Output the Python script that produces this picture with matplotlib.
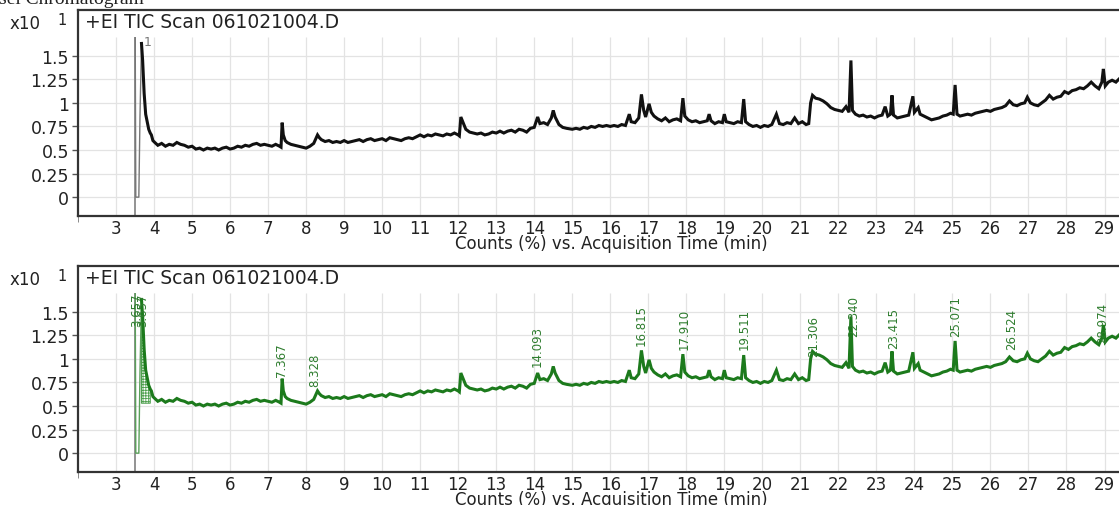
import numpy as np
import matplotlib
matplotlib.use('Agg')
import matplotlib.pyplot as plt

# TIC trace: retention time (min), counts (x10^1 %)
rt = [3.505, 3.52, 3.60, 3.63, 3.67, 3.70, 3.74, 3.78, 3.82, 3.86, 3.90, 3.93, 3.97, 4.02,
      4.10, 4.2, 4.3, 4.4, 4.5, 4.6, 4.7, 4.8, 4.9, 5.0, 5.1, 5.2, 5.3, 5.4, 5.5, 5.6, 5.7,
      5.8, 5.9, 6.0, 6.1, 6.2, 6.3, 6.4, 6.5, 6.6, 6.7, 6.8, 6.9, 7.0, 7.1, 7.2, 7.3, 7.34,
      7.37, 7.40, 7.45, 7.5, 7.6, 7.7, 7.8, 7.9, 8.0, 8.1, 8.2, 8.3, 8.35, 8.4, 8.5, 8.6,
      8.7, 8.8, 8.9, 9.0, 9.1, 9.2, 9.3, 9.4, 9.5, 9.6, 9.7, 9.8, 9.9, 10.0, 10.1, 10.2,
      10.3, 10.4, 10.5, 10.6, 10.7, 10.8, 10.9, 11.0, 11.1, 11.2, 11.3, 11.4, 11.5, 11.6,
      11.7, 11.8, 11.9, 12.0, 12.03, 12.07, 12.12, 12.2, 12.3, 12.4, 12.5, 12.6, 12.7,
      12.8, 12.9, 13.0, 13.1, 13.2, 13.3, 13.4, 13.5, 13.6, 13.7, 13.8, 13.9, 14.0, 14.09,
      14.15, 14.25, 14.35, 14.45, 14.5, 14.55, 14.65, 14.75, 14.85, 15.0, 15.1, 15.2, 15.3,
      15.4, 15.5, 15.6, 15.7, 15.8, 15.9, 16.0, 16.1, 16.2, 16.3, 16.4, 16.5, 16.55, 16.65,
      16.75, 16.82, 16.88, 16.93, 17.02, 17.08, 17.15, 17.25, 17.35, 17.45, 17.55, 17.65,
      17.75, 17.85, 17.91, 17.96, 18.05, 18.15, 18.25, 18.35, 18.45, 18.55, 18.6, 18.65,
      18.75, 18.85, 18.95, 19.0, 19.05, 19.15, 19.25, 19.35, 19.45, 19.51, 19.56, 19.65,
      19.75, 19.85, 19.95, 20.05, 20.15, 20.25, 20.37, 20.45, 20.55, 20.65, 20.75, 20.85,
      20.95, 21.05, 21.15, 21.22, 21.27, 21.32, 21.4, 21.5, 21.6, 21.7, 21.8, 21.9, 22.0,
      22.1, 22.2, 22.28, 22.33, 22.37, 22.45, 22.55, 22.65, 22.75, 22.85, 22.95, 23.05,
      23.15, 23.23, 23.3, 23.37, 23.41, 23.45, 23.55, 23.65, 23.75, 23.85, 23.96, 24.0,
      24.1, 24.15, 24.25, 24.35, 24.45, 24.55, 24.65, 24.75, 24.85, 24.95, 25.02, 25.07,
      25.12, 25.2, 25.3, 25.4, 25.5, 25.6, 25.7, 25.8, 25.9, 26.0, 26.1, 26.2, 26.3, 26.4,
      26.5, 26.6, 26.7, 26.8, 26.9, 26.97, 27.05, 27.15, 27.25, 27.35, 27.45, 27.55, 27.65,
      27.75, 27.85, 27.95, 28.05, 28.15, 28.25, 28.35, 28.45, 28.55, 28.65, 28.75, 28.85,
      28.93, 28.97, 29.02, 29.1, 29.2, 29.3, 29.4, 29.5]
counts = [1.69, 0.0, 0.0, 0.85, 1.63, 1.45, 1.10, 0.88, 0.80, 0.72, 0.68, 0.66, 0.60, 0.58,
          0.55, 0.57, 0.54, 0.56, 0.55, 0.58, 0.56, 0.55, 0.53, 0.54, 0.51, 0.52, 0.50, 0.52,
          0.51, 0.52, 0.50, 0.52, 0.53, 0.51, 0.52, 0.54, 0.53, 0.55, 0.54, 0.56, 0.57, 0.55,
          0.56, 0.55, 0.54, 0.56, 0.54, 0.53, 0.79, 0.66, 0.60, 0.58, 0.56, 0.55, 0.54, 0.53,
          0.52, 0.54, 0.57, 0.66, 0.63, 0.61, 0.59, 0.60, 0.58, 0.59, 0.58, 0.60, 0.58, 0.59,
          0.60, 0.61, 0.59, 0.61, 0.62, 0.60, 0.61, 0.62, 0.60, 0.63, 0.62, 0.61, 0.60, 0.62,
          0.63, 0.62, 0.64, 0.66, 0.64, 0.66, 0.65, 0.67, 0.66, 0.65, 0.67, 0.66, 0.68, 0.66,
          0.65, 0.85, 0.80, 0.72, 0.69, 0.68, 0.67, 0.68, 0.66, 0.67, 0.69, 0.68, 0.70, 0.68,
          0.70, 0.71, 0.69, 0.72, 0.71, 0.69, 0.73, 0.74, 0.85, 0.78, 0.79, 0.77, 0.84, 0.92,
          0.85, 0.77, 0.74, 0.73, 0.72, 0.73, 0.72, 0.74, 0.73, 0.75, 0.74, 0.76, 0.75, 0.76,
          0.75, 0.76, 0.75, 0.77, 0.76, 0.88, 0.80, 0.79, 0.84, 1.09, 0.92, 0.85, 0.99, 0.90,
          0.86, 0.83, 0.81, 0.84, 0.80, 0.82, 0.83, 0.81, 1.05, 0.86, 0.82, 0.80, 0.81, 0.79,
          0.80, 0.81, 0.88, 0.81, 0.78, 0.80, 0.79, 0.88, 0.80, 0.79, 0.78, 0.80, 0.79, 1.04,
          0.80, 0.77, 0.75, 0.76, 0.74, 0.76, 0.75, 0.77, 0.88, 0.78, 0.77, 0.79, 0.78, 0.84,
          0.78, 0.80, 0.77, 0.78, 1.00, 1.08, 1.05, 1.04, 1.02, 0.99, 0.95, 0.93, 0.92, 0.91,
          0.96, 0.90, 1.45, 0.92, 0.88, 0.86, 0.87, 0.85, 0.86, 0.84, 0.86, 0.87, 0.96, 0.86,
          0.88, 1.08, 0.87, 0.84, 0.85, 0.86, 0.87, 1.07, 0.90, 0.95, 0.88, 0.86, 0.84, 0.82,
          0.83, 0.84, 0.86, 0.87, 0.89, 0.88, 1.19, 0.88, 0.86, 0.87, 0.88, 0.87, 0.89, 0.90,
          0.91, 0.92, 0.91, 0.93, 0.94, 0.95, 0.97, 1.02, 0.98, 0.97, 0.99, 1.00, 1.06, 1.00,
          0.98, 0.97, 1.00, 1.03, 1.08, 1.04, 1.06, 1.07, 1.12, 1.10, 1.13, 1.14, 1.16, 1.15,
          1.18, 1.22, 1.18, 1.15, 1.22, 1.36, 1.18, 1.22, 1.24, 1.22, 1.26, 1.27]
n_lead = 5             # points before the first apex, drawn as a thin line

start_time = 3.49      # acquisition start marker
peak_number_rt = 3.72  # "1" tag on the first peak (top panel)
peak_number_y = 1.58

# integrated peak labels (bottom panel): text, retention time, label base height
peak_labels = ['3.657', '3.657', '7.367', '8.328', '14.093', '16.815', '17.910', '19.511',
               '21.306', '22.340', '23.415', '25.071', '26.524', '28.974']
label_rt = [3.54, 3.71, 7.36, 8.24, 14.09, 16.81, 17.95, 19.53, 21.34, 22.39, 23.45,
            25.09, 26.57, 28.94]
label_base = [1.35, 1.35, 0.815, 0.71, 0.92, 1.15, 1.10, 1.10, 1.03, 1.24, 1.12, 1.24,
              1.10, 1.17]

# hatched integration area of the first peak
area_from, area_to, area_base = 3.67, 3.91, 0.53

x_ticks = list(range(3, 30))
y_ticks = [0, 0.25, 0.5, 0.75, 1, 1.25, 1.5]
y_ticklabels = ['0', '0.25', '0.5', '0.75', '1', '1.25', '1.5']
title = '+EI TIC Scan 061021004.D'
xlabel = 'Counts (%) vs. Acquisition Time (min)'

W, H = 1119, 506
XMIN, XMAX = 2.0, 29.44
YMIN, YMAX = -0.2, 1.985
GRID_TOP = 1.70

plt.rcParams['hatch.linewidth'] = 0.6
plt.rcParams['hatch.color'] = '#4fa04f'

fig = plt.figure(figsize=(W / 100, H / 100), dpi=100)
fig.patch.set_facecolor('white')


def fpx(x, y):
    return x / W, 1 - y / H


def panel(top_px, line_color, lead_color):
    bottom_px = top_px + 206
    l, b = fpx(78, bottom_px)
    ax = fig.add_axes([l, b, 1 - l + 0.002, 206 / H])
    ax.set_xlim(XMIN, XMAX)
    ax.set_ylim(YMIN, YMAX)

    # grid: verticals stop below the header band
    ax.vlines(x_ticks, YMIN, GRID_TOP, color='#e3e3e3', lw=0.9, zorder=0)
    for yv in y_ticks:
        ax.axhline(yv, color='#e3e3e3', lw=0.9, zorder=0)

    ax.vlines([start_time], YMIN, GRID_TOP, color='#8a8a8a', lw=1.3, zorder=2)
    ax.plot(rt[:n_lead], counts[:n_lead], color=lead_color, lw=1.0, zorder=3)
    ax.plot(rt[n_lead - 1:], counts[n_lead - 1:], color=line_color, lw=2.2, zorder=3,
            solid_joinstyle='miter')

    ax.set_xticks(x_ticks)
    ax.set_xticklabels([str(t) for t in x_ticks])
    ax.set_xticks([2], minor=True)
    ax.set_yticks(y_ticks)
    ax.set_yticklabels(y_ticklabels)
    ax.tick_params(axis='x', which='major', length=0, pad=2.5, labelsize=12, labelcolor='#222')
    ax.tick_params(axis='x', which='minor', length=4, color='#777')
    ax.tick_params(axis='y', length=4, width=1, color='#555', pad=2.5, labelsize=12.5,
                   labelcolor='#222')

    for s in ['left', 'bottom', 'top']:
        ax.spines[s].set_color('#333333')
        ax.spines[s].set_linewidth(1.6)
    ax.spines['right'].set_visible(False)

    fig.text(*fpx(85, top_px + 17), title, fontsize=13.5, color='#222', va='baseline')
    fig.text(*fpx(10, top_px + 18), 'x10', fontsize=12, color='#222', va='baseline')
    fig.text(*fpx(57, top_px + 14), '1', fontsize=10.5, color='#222', va='baseline')
    fig.text(*fpx(611, bottom_px + 32), xlabel, fontsize=12, color='#222',
             ha='center', va='baseline')
    return ax


# top: plain TIC
ax1 = panel(11, '#111111', '#777777')
ax1.text(peak_number_rt, peak_number_y, '1', fontsize=9, color='#777777',
         ha='left', va='bottom', zorder=4)

# bottom: integrated TIC with labels
ax2 = panel(267, '#1c7a1c', '#5aa05a')
rt_arr = np.array(rt)
cnt_arr = np.array(counts)
sel = (rt_arr >= area_from) & (rt_arr <= area_to)
ax2.fill_between(rt_arr[sel], cnt_arr[sel], area_base, facecolor='none',
                 edgecolor='#4fa04f', hatch='++++++', lw=0.8, zorder=2)
for lab, t, yb in zip(peak_labels, label_rt, label_base):
    ax2.text(t, yb, lab, rotation=90, ha='center', va='bottom', fontsize=8.5,
             color='#2f7d2f', zorder=4)

# caption cut off at the top edge of the page
fig.text(*fpx(-1, 4), 'sel Chromatogram', fontsize=14, family='Liberation Serif',
         color='#222', va='baseline')

fig.savefig('out.png', dpi=100)
